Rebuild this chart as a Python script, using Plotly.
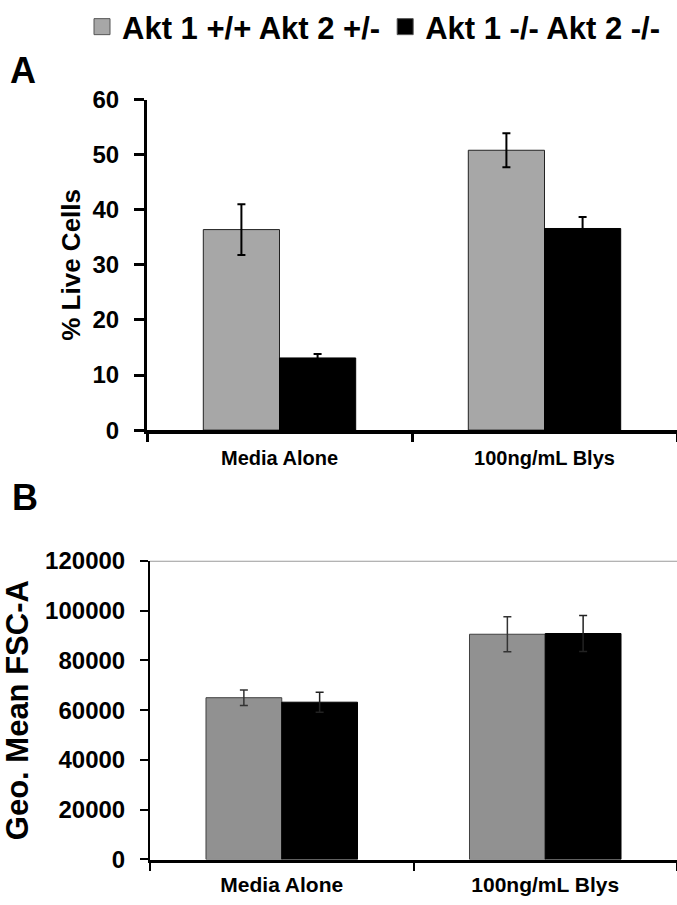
import plotly.graph_objects as go

# ---------------- data ----------------
CATEGORIES = ["Media Alone", "100ng/mL Blys"]
SERIES = ["Akt 1 +/+ Akt 2 +/-", "Akt 1 -/- Akt 2 -/-"]

# Panel A: % live cells
LIVE_HET = [36.4, 50.8]
LIVE_HET_ERR = [4.6, 3.1]
LIVE_DKO = [13.1, 36.6]
LIVE_DKO_ERR = [0.7, 2.1]

# Panel B: Geo. mean FSC-A
FSC_HET = [65000, 90500]
FSC_HET_ERR = [3100, 7000]
FSC_DKO = [63200, 90800]
FSC_DKO_ERR = [4000, 7200]

Y_A_TICKS = [0, 10, 20, 30, 40, 50, 60]
Y_B_TICKS = [0, 20000, 40000, 60000, 80000, 100000, 120000]

# ---------------- style ----------------
FONT = "Liberation Sans, Arial, Helvetica, sans-serif"
GREY_A = "#a7a7a7"
GREY_B = "#919191"
BLACK = "#000000"
W, H = 677, 905

fig = go.Figure()

# Panel A bars
fig.add_trace(go.Bar(
    x=CATEGORIES, y=LIVE_HET, name=SERIES[0], showlegend=False,
    marker=dict(color=GREY_A, line=dict(color="#222222", width=1)),
    error_y=dict(type="data", array=LIVE_HET_ERR, color="#000000", thickness=2, width=4),
    xaxis="x", yaxis="y"))
fig.add_trace(go.Bar(
    x=CATEGORIES, y=LIVE_DKO, name=SERIES[1], showlegend=False,
    marker=dict(color=BLACK, line=dict(color="#000000", width=1)),
    error_y=dict(type="data", array=LIVE_DKO_ERR, color="#000000", thickness=2, width=4),
    xaxis="x", yaxis="y"))

# Panel B bars
fig.add_trace(go.Bar(
    x=CATEGORIES, y=FSC_HET, name=SERIES[0], showlegend=False,
    marker=dict(color=GREY_B, line=dict(color="#404040", width=1)),
    error_y=dict(type="data", array=FSC_HET_ERR, color="#333333", thickness=1.5, width=4),
    xaxis="x2", yaxis="y2"))
fig.add_trace(go.Bar(
    x=CATEGORIES, y=FSC_DKO, name=SERIES[1], showlegend=False,
    marker=dict(color=BLACK, line=dict(color="#000000", width=1)),
    error_y=dict(type="data", array=FSC_DKO_ERR, color="#222222", thickness=1.5, width=4),
    xaxis="x2", yaxis="y2"))

# Legend-only entries (larger square symbols)
for name, col in zip(SERIES, [GREY_A, BLACK]):
    fig.add_trace(go.Scatter(
        x=[CATEGORIES[0]], y=[None], mode="markers", name=name,
        marker=dict(symbol="square", size=16, color=col, line=dict(color="#555555", width=1)),
        xaxis="x", yaxis="y", hoverinfo="skip"))

def px_x(p):
    return p / W

def px_y(p):
    return 1 - p / H

tickfont_y = dict(family=FONT, size=24, color="black", weight="bold")

fig.update_layout(
    width=W, height=H,
    margin=dict(l=0, r=0, t=0, b=0),
    paper_bgcolor="white", plot_bgcolor="white",
    barmode="group", bargap=0.425, bargroupgap=0,
    font=dict(family=FONT, color="black"),
    showlegend=True,
    legend=dict(
        orientation="h", x=px_x(82), xanchor="left", y=px_y(23), yanchor="middle",
        font=dict(family=FONT, size=31, color="black", weight="bold"),
        bgcolor="rgba(0,0,0,0)", itemclick=False, tracegroupgap=0),
    xaxis=dict(
        domain=[px_x(147), 1.0], anchor="y", type="category",
        range=[-0.5, 1.5], showline=True, linecolor="black", linewidth=4,
        ticks="outside", tickson="boundaries", ticklen=8, tickwidth=3, tickcolor="black",
        tickfont=dict(family=FONT, size=20, color="black", weight="bold"),
        ticklabelstandoff=7, showgrid=False, zeroline=False, automargin=False,
        fixedrange=True),
    yaxis=dict(
        domain=[px_y(428), px_y(96)], anchor="x", range=[0, 60],
        tickvals=Y_A_TICKS, showline=True, linecolor="black", linewidth=3,
        ticks="outside", ticklen=10, tickwidth=3, tickcolor="black",
        tickfont=tickfont_y, ticklabelstandoff=10,
        title=dict(text="% Live Cells", standoff=5,
                   font=dict(family=FONT, size=26, color="black", weight="bold")),
        showgrid=False, zeroline=False, automargin=False, fixedrange=True),
    xaxis2=dict(
        domain=[px_x(150), 1.0], anchor="y2", type="category",
        range=[-0.5, 1.5], showline=True, linecolor="black", linewidth=3,
        ticks="outside", tickson="boundaries", ticklen=8, tickwidth=2, tickcolor="black",
        tickfont=dict(family=FONT, size=21, color="black", weight="bold"),
        ticklabelstandoff=4, showgrid=False, zeroline=False, automargin=False,
        fixedrange=True),
    yaxis2=dict(
        domain=[px_y(859.3), px_y(559.3)], anchor="x2", range=[0, 120000],
        tickvals=Y_B_TICKS, ticktext=[str(v) for v in Y_B_TICKS],
        showline=True, linecolor="black", linewidth=2,
        ticks="outside", ticklen=8, tickwidth=2, tickcolor="black",
        tickfont=tickfont_y, ticklabelstandoff=10,
        title=dict(text="Geo. Mean FSC-A", standoff=10,
                   font=dict(family=FONT, size=31, color="black", weight="bold")),
        showgrid=False, zeroline=False, automargin=False, fixedrange=True),
    annotations=[
        dict(text="A", x=px_x(8), y=px_y(67), xref="paper", yref="paper",
             xanchor="left", yanchor="middle", showarrow=False,
             font=dict(family=FONT, size=36, color="black", weight="bold")),
        dict(text="B", x=px_x(10), y=px_y(496), xref="paper", yref="paper",
             xanchor="left", yanchor="middle", showarrow=False,
             font=dict(family=FONT, size=36, color="black", weight="bold")),
    ],
)

# grey line at the top of panel B (axis maximum)
fig.add_shape(type="line", xref="x2 domain", yref="y2", x0=0, x1=1,
              y0=Y_B_TICKS[-1], y1=Y_B_TICKS[-1],
              line=dict(color="#9a9a9a", width=2), layer="below")

fig.write_html(
    "out.html",
    config={"displayModeBar": False},
    post_script="document.body.style.margin='0';document.body.style.padding='0';",
)
